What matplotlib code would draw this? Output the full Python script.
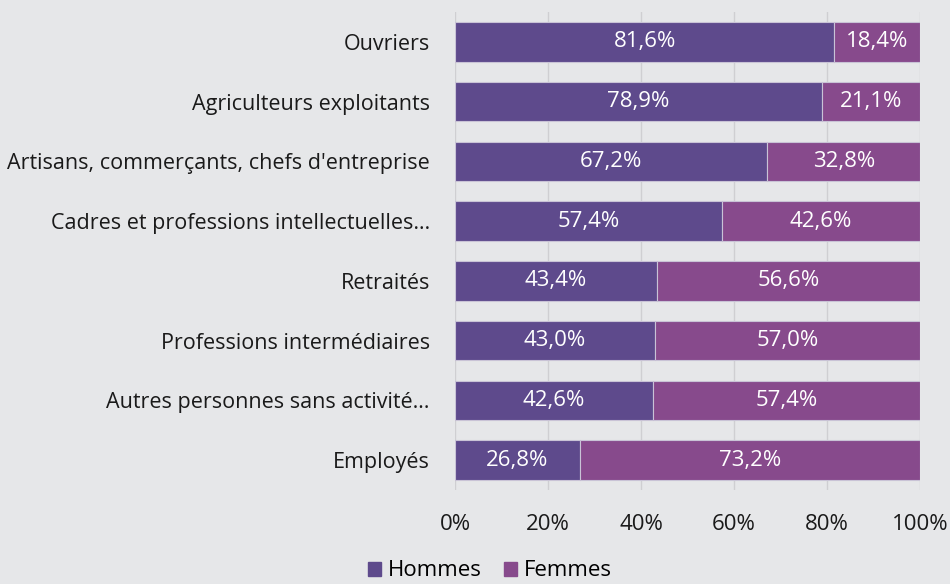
import matplotlib
matplotlib.use("Agg")
import matplotlib.pyplot as plt
import numpy as np
from matplotlib.patches import Patch

categories = ["Ouvriers", "Agriculteurs exploitants", "Artisans, commerçants, chefs d'entreprise",
              "Cadres et professions intellectuelles…", "Retraités", "Professions intermédiaires",
              "Autres personnes sans activité…", "Employés"]
hommes = [81.6, 78.9, 67.2, 57.4, 43.4, 43.0, 42.6, 26.8]
femmes = [18.4, 21.1, 32.8, 42.6, 56.6, 57.0, 57.4, 73.2]
xticks = [0, 20, 40, 60, 80, 100]

plt.rcParams['font.family'] = ['Open Sans', 'DejaVu Sans']
c_h = "#5E4A8C"
c_f = "#874A8C"
bg = "#E6E7E9"

fig = plt.figure(figsize=(9.5, 5.84), dpi=100)
fig.patch.set_facecolor(bg)
ax = fig.add_axes([455/950, 1-490/584, (920-455)/950, (490-12)/584])
ax.set_facecolor(bg)

y = np.arange(len(categories))
ax.barh(y, hommes, height=0.66, color=c_h, edgecolor="#C9C3D6", linewidth=0.8, zorder=3)
ax.barh(y, femmes, left=hommes, height=0.66, color=c_f, edgecolor="#C9C3D6", linewidth=0.8, zorder=3)

for i in range(len(categories)):
    ax.text(hommes[i]/2, y[i], f"{hommes[i]:.1f}%".replace(".", ","), ha="center", va="center",
            color="white", fontsize=16, zorder=4)
    ax.text(hommes[i] + femmes[i]/2, y[i], f"{femmes[i]:.1f}%".replace(".", ","), ha="center", va="center",
            color="white", fontsize=16, zorder=4)

ax.set_ylim(len(categories)-0.5, -0.5)
ax.set_xlim(0, 100)
ax.set_yticks(y)
ax.set_yticklabels(categories, fontsize=15.5, color="#1a1a1a")
ax.set_xticks(xticks)
ax.set_xticklabels([f"{t}%" for t in xticks], fontsize=16, color="#1a1a1a")
ax.tick_params(axis="both", length=0)
ax.tick_params(axis="y", pad=18)
ax.tick_params(axis="x", pad=17)
ax.grid(axis="x", color="#CFCFD2", linewidth=1, zorder=0)
for s in ax.spines.values():
    s.set_visible(False)

handles = [Patch(color=c_h, label="Hommes"), Patch(color=c_f, label="Femmes")]
fig.legend(handles=handles, loc="center", bbox_to_anchor=(490/950, 1-571/584), ncol=2,
           frameon=False, fontsize=16, handlelength=0.6, handleheight=0.6,
           handletextpad=0.3, columnspacing=1.0, borderpad=0.1)

fig.savefig("out.png", dpi=100, facecolor=bg)
